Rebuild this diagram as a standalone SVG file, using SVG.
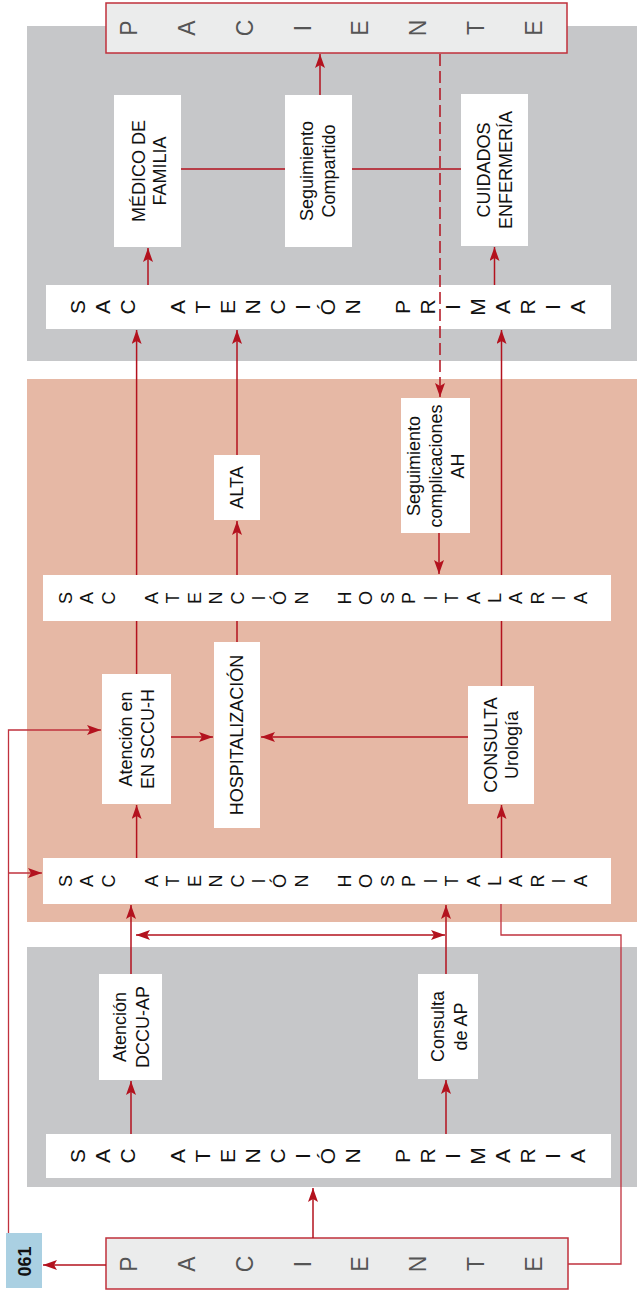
<svg xmlns="http://www.w3.org/2000/svg" width="637" height="1293" viewBox="0 0 637 1293">
<style>
.pg{fill:#c6c7c9}
.pp{fill:#e6b8a5}
.wb{fill:#ffffff}
.pac{fill:#ebecec;stroke:#c0303b;stroke-width:1.5}
.b061{fill:#aad0e2}
.ln{fill:none;stroke:#b3121e;stroke-width:1.5}
.lt{fill:none;stroke:#c0323e;stroke-width:1.3}
.arr{marker-end:url(#ah)}
.dash{stroke-dasharray:12 5}
.t{font-family:"Liberation Sans",Arial,Helvetica,sans-serif;font-size:18px;fill:#111;text-anchor:middle}
.sp{font-family:"Liberation Sans",Arial,Helvetica,sans-serif;fill:#111;text-anchor:middle;writing-mode:vertical-rl;text-orientation:upright}
.ap{font-size:21px;letter-spacing:2px}
.ahs{font-size:18px;letter-spacing:1.45px}
.pl{font-size:23px;letter-spacing:31.8px;fill:#555}
.bold{font-weight:bold}
</style>
<defs>
<marker id="ah" viewBox="0 0 14 10" refX="14" refY="5" markerWidth="14" markerHeight="10" markerUnits="userSpaceOnUse" orient="auto-start-reverse">
<path d="M0,0 L14,5 L0,10 L3,5 z" fill="#b3121e"/>
</marker>
</defs>

<g id="panels">
<rect class="pg" x="27" y="26" width="610" height="335"/>
<rect class="pp" x="27" y="379" width="610" height="543"/>
<rect class="pg" x="27" y="947" width="610" height="240"/>
</g>

<g id="paciente-top">
<rect class="pac" x="106" y="3" width="461" height="50"/>
<text class="sp pl" transform="translate(347.4,28) rotate(-90)" x="0" y="0">PACIENTE</text>
</g>

<g id="medico-familia">
<rect class="wb" x="114" y="95" width="67" height="152"/>
<text class="t" transform="translate(147.5,171) rotate(-90)"><tspan x="0" y="-3">MÉDICO DE</tspan><tspan x="0" y="18.5">FAMILIA</tspan></text>
</g>

<g id="seguimiento-compartido">
<rect class="wb" x="285" y="95" width="67" height="152"/>
<text class="t" transform="translate(318.5,171) rotate(-90)"><tspan x="0" y="-5.5">Seguimiento</tspan><tspan x="0" y="16">Compartido</tspan></text>
</g>

<g id="cuidados-enfermeria">
<rect class="wb" x="461" y="94" width="67" height="152"/>
<text class="t" transform="translate(494.5,170) rotate(-90)"><tspan x="0" y="-4.5">CUIDADOS</tspan><tspan x="0" y="17.5">ENFERMERÍA</tspan></text>
</g>

<g id="sac-ap-top">
<rect class="wb" x="46" y="285" width="565" height="44"/>
<text class="sp ap" transform="translate(328.5,307) rotate(-90)" x="0" y="0">SAC ATENCIÓN PRIMARIA</text>
</g>

<g id="alta">
<rect class="wb" x="214" y="455" width="46" height="65"/>
<text class="t" transform="translate(237,487.5) rotate(-90)" x="0" y="6">ALTA</text>
</g>

<g id="seguimiento-complicaciones">
<rect class="wb" x="401" y="398" width="69" height="135"/>
<text class="t" transform="translate(435.5,466) rotate(-90)"><tspan x="0" y="-15.5">Seguimiento</tspan><tspan x="0" y="6.5">complicaciones</tspan><tspan x="0" y="28.5">AH</tspan></text>
</g>

<g id="sac-ah-upper">
<rect class="wb" x="43" y="575" width="568" height="46"/>
<text class="sp ahs" transform="translate(324.1,598) rotate(-90)" x="0" y="0">SAC ATENCIÓN HOSPITALARIA</text>
</g>

<g id="atencion-sccu-h">
<rect class="wb" x="102" y="674" width="69" height="130"/>
<text class="t" transform="translate(136.5,739) rotate(-90)"><tspan x="0" y="-4.5">Atención en</tspan><tspan x="0" y="17">EN SCCU-H</tspan></text>
</g>

<g id="hospitalizacion">
<rect class="wb" x="214" y="642" width="46" height="186"/>
<text class="t" transform="translate(237,735) rotate(-90)" x="0" y="5.5">HOSPITALIZACIÓN</text>
</g>

<g id="consulta-urologia">
<rect class="wb" x="468" y="686" width="66" height="118"/>
<text class="t" transform="translate(501,745) rotate(-90)"><tspan x="0" y="-4.5">CONSULTA</tspan><tspan x="0" y="17">Urología</tspan></text>
</g>

<g id="sac-ah-lower">
<rect class="wb" x="43" y="858" width="568" height="46"/>
<text class="sp ahs" transform="translate(324.1,881) rotate(-90)" x="0" y="0">SAC ATENCIÓN HOSPITALARIA</text>
</g>

<g id="atencion-dccu-ap">
<rect class="wb" x="99" y="974" width="63" height="106"/>
<text class="t" transform="translate(130.5,1027) rotate(-90)"><tspan x="0" y="-4.5">Atención</tspan><tspan x="0" y="18">DCCU-AP</tspan></text>
</g>

<g id="consulta-ap">
<rect class="wb" x="418" y="974" width="60" height="105"/>
<text class="t" transform="translate(448,1026.5) rotate(-90)"><tspan x="0" y="-4">Consulta</tspan><tspan x="0" y="18.5">de AP</tspan></text>
</g>

<g id="sac-ap-bottom">
<rect class="wb" x="46" y="1134" width="565" height="44"/>
<text class="sp ap" transform="translate(328.5,1156) rotate(-90)" x="0" y="0">SAC ATENCIÓN PRIMARIA</text>
</g>

<g id="paciente-bottom">
<rect class="pac" x="106" y="1238" width="462" height="51"/>
<text class="sp pl" transform="translate(347.4,1264) rotate(-90)" x="0" y="0">PACIENTE</text>
</g>

<g id="box-061">
<rect class="b061" x="6" y="1233" width="36" height="55"/>
<text class="t bold" transform="translate(24,1261.5) rotate(-90)" x="0" y="6.5">061</text>
</g>

<g id="connectors">
<path class="ln arr" d="M320,95 V54"/>
<path class="ln" d="M181,169 H285 M352,169 H461"/>
<path class="ln arr" d="M148,285 V248"/>
<path class="ln arr" d="M494.5,285 V247"/>
<path class="ln" d="M136.6,674 V621 M237,642 V621 M501.5,686 V621"/>
<path class="ln arr" d="M136.6,575 V330"/>
<path class="ln arr" d="M237,575 V521"/>
<path class="ln arr" d="M237,455 V330"/>
<path class="ln arr" d="M501.5,575 V330"/>
<path class="ln arr dash" d="M440,54 V397"/>
<path class="ln arr" d="M439,533 V574"/>
<path class="ln arr" d="M171,737 H213"/>
<path class="ln arr" d="M468,737 H261"/>
<path class="ln arr" d="M136.6,858 V805"/>
<path class="ln arr" d="M501.5,858 V805"/>
<path class="lt arr" d="M8.5,1233 V730 H101"/>
<path class="lt arr" d="M8.5,873 H42"/>
<path class="lt" d="M568,1264 H621 V935 H501 V904"/>
<path class="ln arr" d="M136,935 H445" style="marker-start:url(#ah)"/>
<path class="ln arr" d="M131,974 V905"/>
<path class="ln arr" d="M446,974 V905"/>
<path class="ln arr" d="M131,1134 V1081"/>
<path class="ln arr" d="M446,1134 V1080"/>
<path class="ln arr" d="M313,1238 V1188"/>
<path class="ln arr" d="M106,1265 H43"/>
</g>
</svg>
